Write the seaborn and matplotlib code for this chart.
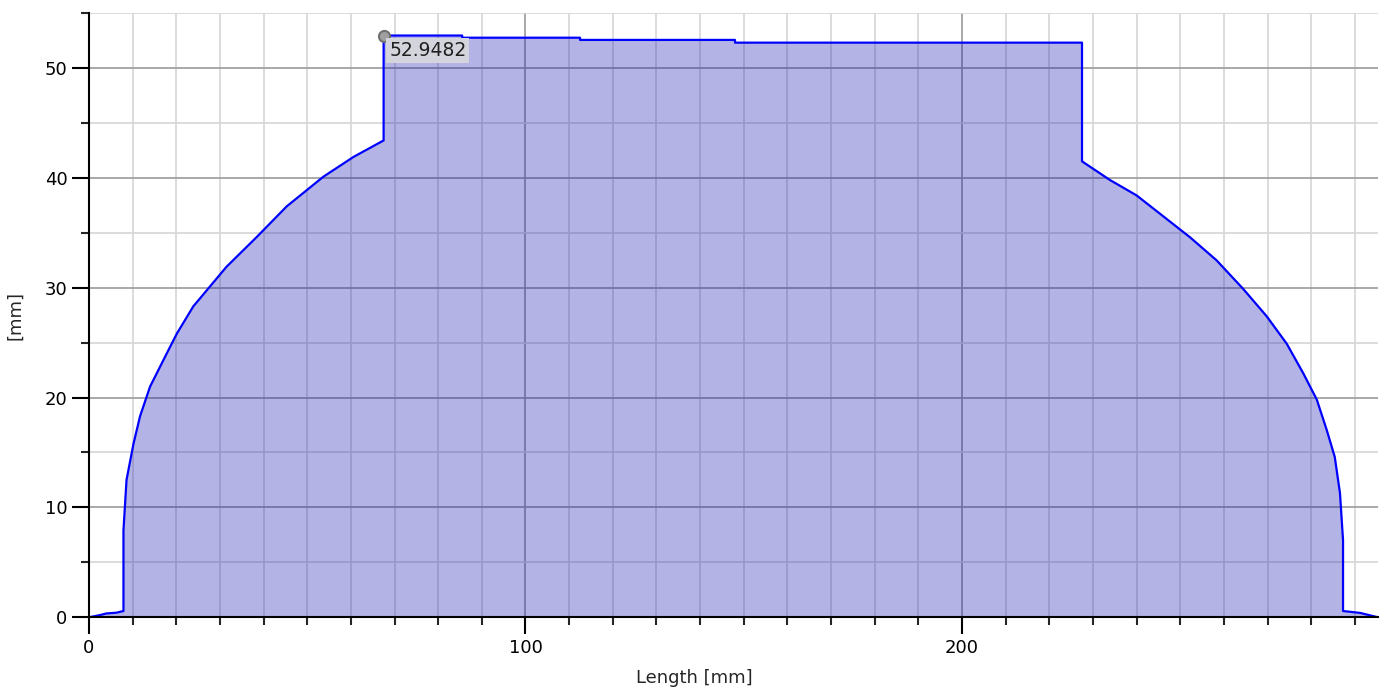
import matplotlib
matplotlib.use("Agg")
import matplotlib.pyplot as plt
import seaborn as sns
import pandas as pd
from matplotlib.ticker import MultipleLocator

# Profile
length_mm = [0, 2.5, 4.0, 6.3, 7.9, 7.9, 8.6, 10.2, 11.7, 14.0, 17.8, 20.1, 23.9,
             27.7, 31.5, 38.4, 45.3, 53.7, 60.6, 67.5,
             67.5, 85.5, 85.5, 112.5, 112.5, 148, 148, 227.5,
             227.5, 233.9, 240.0, 246.1, 252.2, 258.3, 264.4, 269.8, 274.4, 278.2,
             281.3, 283.6, 285.4, 286.6, 287.3, 287.3, 291.2, 295.3]
radius_mm = [0, 0.2, 0.35, 0.42, 0.57, 7.9, 12.5, 15.8, 18.3, 21.0, 24.0, 25.8, 28.3,
             30.1, 31.9, 34.6, 37.4, 40.1, 41.9, 43.4,
             52.9482, 52.9482, 52.75, 52.75, 52.55, 52.55, 52.3, 52.3,
             41.5, 39.8, 38.4, 36.5, 34.6, 32.5, 29.9, 27.4, 24.9, 22.2,
             19.8, 17.0, 14.6, 11.3, 7.0, 0.57, 0.4, 0]
peak_x = 67.5
peak_y = 52.9482

df = pd.DataFrame({"Length": length_mm, "Radius": radius_mm})

sns.set_style("white")
plt.rcParams['font.family'] = ['DejaVu Sans']

fig = plt.figure(figsize=(13.86, 6.95), dpi=100)
ax = fig.add_axes([0.0642, 0.1118, 0.93, 0.8695])

ax.fill_between(df["Length"], df["Radius"], 0, color="#1a1ab0", alpha=0.33,
                linewidth=0, zorder=2)
sns.lineplot(x="Length", y="Radius", data=df, sort=False, estimator=None,
             color="#0000ff", linewidth=1.6, ax=ax, zorder=3)

# peak marker + label
ax.plot(peak_x, peak_y, "o", ms=8, mfc="#a0a0a0", mec="#707070", mew=1.5, zorder=5)
ax.annotate(f"{peak_y:.4f}", (peak_x, peak_y), xytext=(4, -4),
            textcoords="offset points", ha="left", va="top", fontsize=13.5,
            color="#202020", zorder=6,
            bbox=dict(boxstyle="square,pad=0.15", fc="#d4d4dc", ec="none"))

ax.set_xlim(0, 295.3)
ax.set_ylim(0, 55)
ax.xaxis.set_major_locator(MultipleLocator(100))
ax.xaxis.set_minor_locator(MultipleLocator(10))
ax.yaxis.set_major_locator(MultipleLocator(10))
ax.yaxis.set_minor_locator(MultipleLocator(5))

ax.grid(which="major", color="#9a9a9a", linewidth=1.2, zorder=1)
ax.grid(which="minor", color="#d6d6d6", linewidth=1.2, zorder=1)
ax.set_axisbelow(True)

for s in ["top", "right"]:
    ax.spines[s].set_visible(False)
for s in ["left", "bottom"]:
    ax.spines[s].set_color("black")
    ax.spines[s].set_linewidth(1.5)
    ax.spines[s].set_zorder(7)

ax.tick_params(which="major", direction="out", length=12, width=1.5,
               labelsize=13, colors="black", left=True, bottom=True)
ax.tick_params(which="minor", direction="out", length=6, width=1.5,
               left=True, bottom=True)

ax.set_xlabel("Length [mm]", fontsize=13)
ax.set_ylabel("[mm]", fontsize=13)
ax.xaxis.set_label_coords(0.47, -0.085)
ax.yaxis.set_label_coords(-0.05, 0.5)

fig.savefig("out.png", dpi=100)
